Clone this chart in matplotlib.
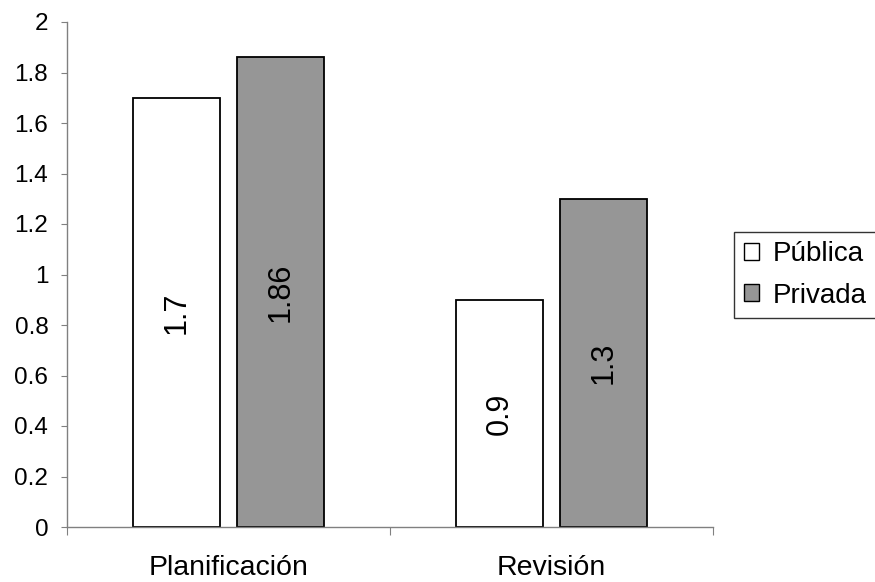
import matplotlib
matplotlib.use("Agg")
import matplotlib.pyplot as plt
from matplotlib.patches import Patch
import numpy as np

categories = ["Planificación", "Revisión"]
publica = [1.7, 0.9]
privada = [1.86, 1.3]
series_names = ["Pública", "Privada"]
yticks = [0, 0.2, 0.4, 0.6, 0.8, 1, 1.2, 1.4, 1.6, 1.8, 2]

plt.rcParams['font.family'] = ['Liberation Sans', 'DejaVu Sans']
fig = plt.figure(figsize=(8.75, 5.82), dpi=100)
W, H = 875, 582
ax = fig.add_axes([67/W, 1-527/H, (713-67)/W, (527-22)/H])

x = np.arange(len(categories))
w = 0.27
off = 0.16
b1 = ax.bar(x - off, publica, w, color="white", edgecolor="black", linewidth=1.3)
b2 = ax.bar(x + off, privada, w, color="#969696", edgecolor="black", linewidth=1.3)

for bars, vals in ((b1, publica), (b2, privada)):
    for r, v in zip(bars, vals):
        ax.text(r.get_x() + r.get_width()/2, v/2, f"{v:g}", rotation=90,
                ha="center", va="center", fontsize=22)

ax.set_xlim(-0.5, 1.5)
ax.set_ylim(0, 2)
ax.set_yticks(yticks)
ax.set_yticklabels([f"{t:g}" for t in yticks], fontsize=17.5)
ax.set_xticks([-0.5, 0.5, 1.5])
ax.set_xticklabels([])
ax.set_xticks(x, minor=True)
ax.set_xticklabels(categories, minor=True, fontsize=20.5)
ax.tick_params(axis="x", which="minor", length=0, pad=20)
ax.tick_params(axis="x", which="major", length=6, color="#808080", direction="out")
ax.tick_params(axis="y", length=4.5, color="#808080", direction="out", pad=9)
for s in ["top", "right"]:
    ax.spines[s].set_visible(False)
for s in ["left", "bottom"]:
    ax.spines[s].set_color("#808080")
    ax.spines[s].set_linewidth(1.0)

handles = [Patch(facecolor="white", edgecolor="black", linewidth=1),
           Patch(facecolor="#969696", edgecolor="black", linewidth=1)]
leg = fig.legend(handles, series_names, loc="center left",
                 bbox_to_anchor=(734/W, 1-275/H), fontsize=20,
                 frameon=True, fancybox=False, edgecolor="black",
                 handlelength=0.55, handleheight=0.55, handletextpad=0.5,
                 borderpad=0.35, labelspacing=0.55, borderaxespad=0)
leg.get_frame().set_linewidth(1.0)

fig.savefig("out.png", dpi=100)
